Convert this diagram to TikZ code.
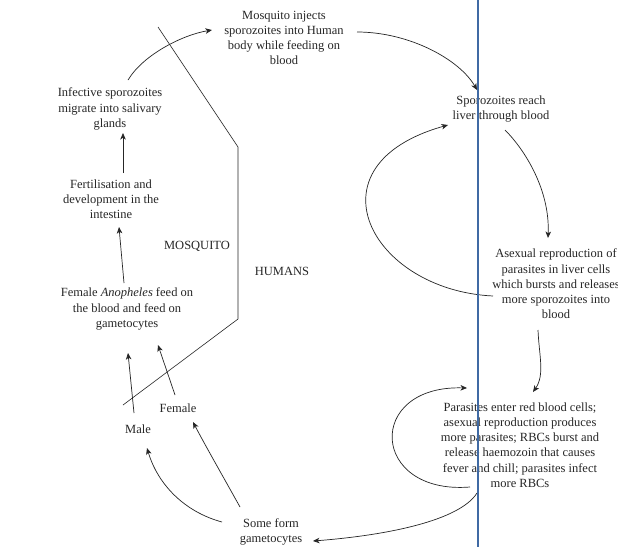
\documentclass[tikz,border=0pt]{standalone}
\usepackage{fontspec}
\setmainfont{Liberation Serif}
\usetikzlibrary{arrows.meta,calc}
\definecolor{ink}{RGB}{38,38,38}
\definecolor{rulecol}{RGB}{64,106,164}
\begin{document}
\begin{tikzpicture}[x=1pt,y=-1pt,
  lbl/.style={align=center,inner sep=0pt,text=ink,font=\fontsize{12.5}{15.2}\selectfont},
  arr/.style={draw=ink,line width=0.7pt,-{Stealth[length=6.5pt,width=5.5pt,inset=1.8pt]}},
  border/.style={draw=ink,line width=0.6pt}]
\fill[white] (0,0) rectangle (618,547);
\useasboundingbox (0,0) rectangle (618,547);

% texts
\node[lbl] (inj) at (284,38) {Mosquito injects\\sporozoites into Human\\body while feeding on\\blood};
\node[lbl] (spo) at (501,109) {Sporozoites reach\\liver through blood};
\node[lbl] (ase) at (556,284) {Asexual reproduction of\\parasites in liver cells\\which bursts and releases\\more sporozoites into\\blood};
\node[lbl] (par) at (520,445) {Parasites enter red blood cells;\\asexual reproduction produces\\more parasites; RBCs burst and\\release haemozoin that causes\\fever and chill; parasites infect\\more RBCs};
\node[lbl] (gam) at (271,532) {Some form\\gametocytes};
\node[lbl] (male) at (138,429) {Male};
\node[lbl] (fem) at (178,408) {Female};
\node[lbl] (ano) at (127,309) {Female \textit{Anopheles} feed on\\the blood and feed on\\gametocytes};
\node[lbl] (fer) at (111,199) {Fertilisation and\\development in the\\intestine};
\node[lbl] (inf) at (110,109) {Infective sporozoites\\migrate into salivary\\glands};
\node[lbl] (mos) at (197,246) {MOSQUITO};
\node[lbl] (hum) at (282,271) {HUMANS};

% boundary between mosquito and human phases
\draw[border] (158,27) -- (238,147) -- (238,319) -- (123,405);

% connectors
\draw[arr] ($(inf)+(18,-29)$) .. controls +(15,-25) and +(-30,5) .. ($(inj)+(-72,-8)$);
\draw[arr] ($(inj)+(73,-6)$) .. controls +(53,0) and +(-17,-30) .. ($(spo)+(-24,-19)$);
\draw[arr] ($(spo)+(4,21)$) .. controls +(20,20) and +(2,-48) .. ($(ase)+(-8,-46)$);
\draw[arr] ($(ase)+(-63,12)$) .. controls +(-123,-6) and +(-143,40) .. ($(spo)+(-53,16)$);
\draw[arr] ($(ase)+(-18,46)$) .. controls +(1,25) and +(12,-17) .. ($(par)+(13,-53)$);
\draw[arr] ($(par)+(-50,42)$) .. controls +(-100,8) and +(-102,-3) .. ($(par)+(-53,-57)$);
\draw[arr] ($(par)+(-43,48)$) .. controls +(-17,27) and +(77,-6) .. ($(gam)+(42,9)$);
\draw[arr] ($(gam)+(-49,-10)$) .. controls +(-37,-10) and +(11,37) .. ($(male)+(9,19)$);
\draw[arr] ($(gam)+(-31,-25)$) .. controls +(-15,-27) and +(12,23) .. ($(fem)+(15,14)$);
\draw[arr] ($(male)+(-4,-16)$) -- ($(ano)+(1,44)$);
\draw[arr] ($(fem)+(-3,-13)$) -- ($(ano)+(31,36)$);
\draw[arr] ($(ano)+(-3,-26)$) -- ($(fer)+(8,28)$);
\draw[arr] ($(fer)+(12,-26)$) -- ($(inf)+(13,24)$);

% blue vertical rule
\draw[rulecol,line width=2.6pt] (478,0) -- (478,547);
\end{tikzpicture}
\end{document}
